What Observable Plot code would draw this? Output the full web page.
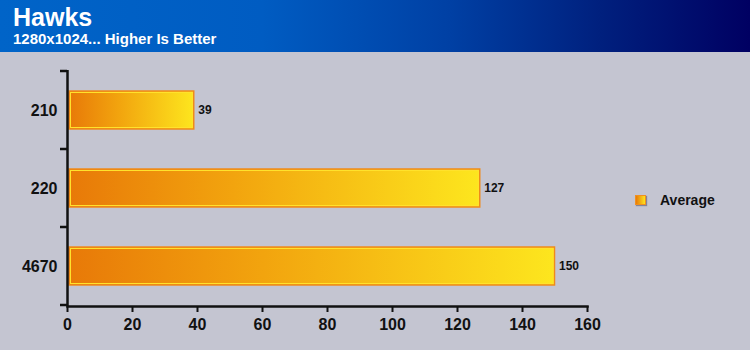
<!DOCTYPE html>
<html>
<head>
<meta charset="utf-8">
<script src="https://cdn.jsdelivr.net/npm/d3@7"></script>
<script src="https://cdn.jsdelivr.net/npm/@observablehq/plot@0.6"></script>
<style>
  html, body { margin: 0; padding: 0; }
  #wrap { position: relative; width: 750px; height: 350px; background: #c4c5d1; overflow: hidden;
          font-family: "Liberation Sans", Arial, sans-serif; }
  #hdr { position: absolute; left: 0; top: 0; width: 750px; height: 52px;
         background: linear-gradient(to right, #0064c8 0%, #005cc2 35%, #0040a4 60%, #00207e 80%, #000062 100%); }
  #title { position: absolute; left: 13px; top: 3px; color: #fff; font-size: 25px; font-weight: bold; }
  #subtitle { position: absolute; left: 13px; top: 30px; color: #fff; font-size: 15px; font-weight: bold; }
  #chart { position: absolute; left: 0; top: 52px; }
  #legend { position: absolute; left: 635px; top: 192px; display: flex; align-items: center; }
  #legend .sw { width: 9px; height: 8px; border: 1px solid #f09020;
                background: linear-gradient(to right, #e87a08, #fde41e); box-shadow: 1px 1px 1px rgba(70,70,90,0.5); }
  #legend .lb { margin-left: 14px; font-size: 14px; font-weight: bold; color: #111; }
</style>
</head>
<body>
<div id="wrap">
  <div id="hdr">
    <div id="title">Hawks</div>
    <div id="subtitle">1280x1024... Higher Is Better</div>
  </div>
  <div id="chart"></div>
  <div id="legend"><div class="sw"></div><div class="lb"></div></div>
</div>
<script>
const categories = ["210", "220", "4670"];
const values = [39, 127, 150];
const xTicks = [0, 20, 40, 60, 80, 100, 120, 140, 160];
const seriesName = "Average";

const data = categories.map((c, i) => ({category: c, value: values[i]}));

const plot = Plot.plot({
  width: 750,
  height: 298,
  marginTop: 18,
  marginBottom: 44,
  marginLeft: 67,
  marginRight: 163,
  style: {background: "transparent", fontFamily: "'Liberation Sans', Arial, sans-serif", color: "#111", overflow: "visible"},
  x: {domain: [0, 160]},
  y: {type: "band", domain: categories, padding: 0},
  marks: [
    Plot.barX(data, {
      y: "category", x: "value",
      fill: "url(#barGrad)", stroke: "#ef8a1a", strokeWidth: 1.5,
      insetTop: 20, insetBottom: 20, insetLeft: 2,
      style: "filter: drop-shadow(2px 2px 1.2px rgba(70,70,95,0.55))"
    }),
    Plot.barX(data, {
      y: "category", x: "value",
      fill: "none", stroke: "#ffe22c", strokeWidth: 1,
      insetTop: 21.5, insetBottom: 21.5, insetLeft: 3.5, insetRight: 1.5
    }),
    Plot.text(data, {
      y: "category", x: "value", text: d => String(d.value),
      dx: 4, textAnchor: "start", fontSize: 12, fontWeight: "bold", fill: "#111"
    }),
    Plot.axisY({tickSize: 0, tickPadding: 10, fontSize: 16, fontWeight: "bold", label: null, fill: "#111"}),
    Plot.axisX({ticks: xTicks, tickSize: 6, tickPadding: 6, fontSize: 16, fontWeight: "bold",
                label: null, strokeWidth: 2, stroke: "#111", fill: "#111"}),
    Plot.ruleX([0], {stroke: "#111", strokeWidth: 2.5}),
    Plot.frame({anchor: "bottom", stroke: "#111", strokeWidth: 2.5})
  ]
});

const svg = d3.select(plot);
const defs = svg.insert("defs", ":first-child");
const g = defs.append("linearGradient").attr("id", "barGrad")
  .attr("x1", "0").attr("y1", "0").attr("x2", "1").attr("y2", "0");
g.append("stop").attr("offset", "0%").attr("stop-color", "#e87908");
g.append("stop").attr("offset", "40%").attr("stop-color", "#f2a40e");
g.append("stop").attr("offset", "100%").attr("stop-color", "#fde61e");

// band-edge ticks on the category axis, from Plot's own y scale
const ys = plot.scale("y");
const xs = plot.scale("x");
const x0 = xs.apply(0);
const edges = categories.map(c => ys.apply(c));
edges.push(ys.apply(categories[categories.length - 1]) + ys.bandwidth);
svg.append("g").selectAll("line").data(edges).join("line")
  .attr("x1", x0 - 7).attr("x2", x0).attr("y1", d => d).attr("y2", d => d)
  .attr("stroke", "#111").attr("stroke-width", 2.5);

document.getElementById("chart").appendChild(plot);
document.querySelector("#legend .lb").textContent = seriesName;
</script>
</body>
</html>
